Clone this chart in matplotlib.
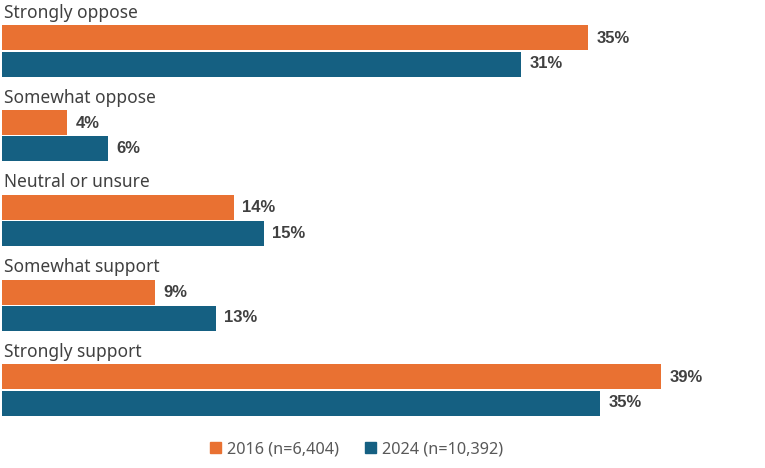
import numpy as np
import matplotlib.pyplot as plt
from matplotlib.patches import Patch

categories = ["Strongly oppose", "Somewhat oppose", "Neutral or unsure", "Somewhat support", "Strongly support"]
vals2016 = [34.7, 3.85, 13.7, 9.05, 39.0]
vals2024 = [30.7, 6.27, 15.5, 12.66, 35.4]
labels2016 = ["35%", "4%", "14%", "9%", "39%"]
labels2024 = ["31%", "6%", "15%", "13%", "35%"]
series_names = ["2016 (n=6,404)", "2024 (n=10,392)"]

orange = "#E97132"
blue = "#156082"

fig = plt.figure(figsize=(7.65, 4.68), dpi=100)
ax = fig.add_axes([2 / 765, 0, 763 / 765, 1])

pitch = 84.75  # pixels per category
bh = 25 / pitch
y = np.arange(len(categories))

ax.barh(y - bh / 2 - 0.006, vals2016, height=bh, color=orange)
ax.barh(y + bh / 2 + 0.006, vals2024, height=bh, color=blue)

for i in range(len(categories)):
    ax.text(0.1, y[i] - 0.45, categories[i], fontsize=12.5, color="#404040",
            family="Noto Sans", va="center", ha="left")
    ax.text(vals2016[i] + 0.5, y[i] - bh / 2, labels2016[i], fontsize=12, fontweight="bold",
            color="#404040", family="Liberation Sans", va="center", ha="left")
    ax.text(vals2024[i] + 0.5, y[i] + bh / 2, labels2024[i], fontsize=12, fontweight="bold",
            color="#404040", family="Liberation Sans", va="center", ha="left")

ax.set_xlim(0, 763 / 16.9)
ax.set_ylim((468 - 51) / pitch, -51 / pitch)
ax.axis("off")

handles = [Patch(color=orange), Patch(color=blue)]
leg = fig.legend(handles, series_names, loc="center", bbox_to_anchor=(357 / 765, 1 - 449 / 468),
                 ncol=2, frameon=False, handlelength=0.65, handleheight=0.65, handletextpad=0.4,
                 columnspacing=1.6, prop={"family": "Noto Sans", "size": 11.7})
for t in leg.get_texts():
    t.set_color("#595959")

fig.savefig("out.png", dpi=100)
